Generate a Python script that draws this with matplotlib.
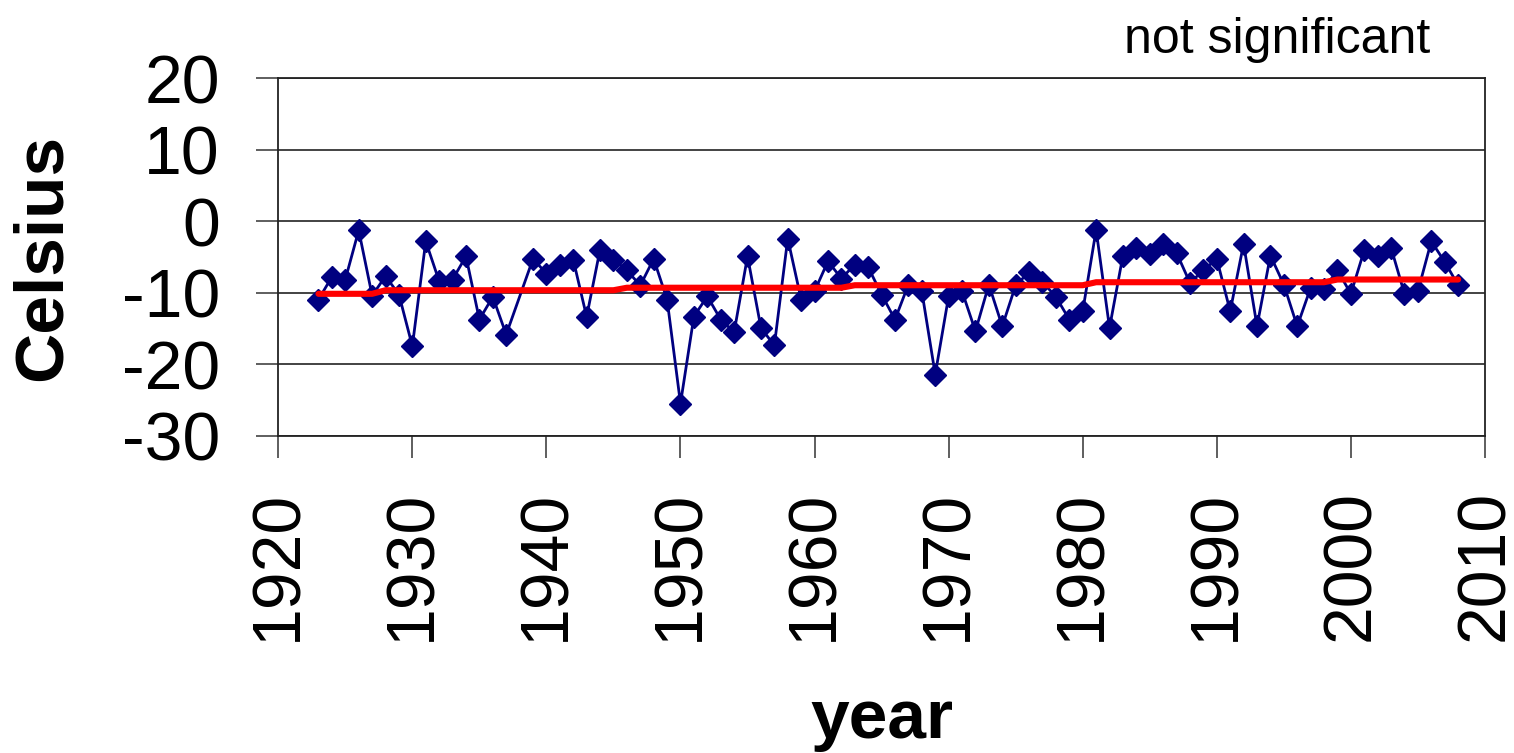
import matplotlib
matplotlib.use("Agg")
import matplotlib.pyplot as plt
import numpy as np

plt.rcParams['font.family'] = ['Liberation Sans', 'DejaVu Sans']
plt.rcParams['axes.unicode_minus'] = False

years = [1923, 1924, 1925, 1926, 1927, 1928, 1929, 1930, 1931, 1932, 1933, 1934,
         1935, 1936, 1937, 1939, 1940, 1941, 1942, 1943, 1944, 1945, 1946, 1947,
         1948, 1949, 1950, 1951, 1952, 1953, 1954, 1955, 1956, 1957, 1958, 1959,
         1960, 1961, 1962, 1963, 1964, 1965, 1966, 1967, 1968, 1969, 1970, 1971,
         1972, 1973, 1974, 1975, 1976, 1977, 1978, 1979, 1980, 1981, 1982, 1983,
         1984, 1985, 1986, 1987, 1988, 1989, 1990, 1991, 1992, 1993, 1994, 1995,
         1996, 1997, 1998, 1999, 2000, 2001, 2002, 2003, 2004, 2005, 2006, 2007,
         2008]

celsius = [-10.95, -7.78, -8.15, -1.26, -10.39, -7.69, -10.25, -17.48, -2.80, -8.39,
           -8.15, -4.90, -13.75, -10.57, -15.85, -5.26, -7.31, -6.06, -5.36, -13.37,
           -3.96, -5.36, -6.85, -8.99, -5.26, -10.95, -25.50, -13.33, -10.49, -13.75,
           -15.52, -4.90, -14.91, -17.38, -2.42, -10.95, -9.79, -5.59, -8.01, -6.06,
           -6.43, -10.25, -13.75, -8.85, -9.79, -21.44, -10.49, -9.79, -15.38, -8.85,
           -14.69, -8.95, -7.13, -8.48, -10.57, -13.75, -12.59, -1.20, -14.91, -4.80,
           -3.72, -4.52, -3.16, -4.42, -8.62, -6.85, -5.26, -12.59, -3.16, -14.69,
           -4.80, -8.85, -14.69, -9.31, -9.45, -6.85, -10.15, -4.06, -4.90, -3.72,
           -10.15, -9.79, -2.80, -5.68, -8.95]

trend = [-10.15, -10.15, -10.15, -10.15, -10.15,            # 1923-1927
         -9.65, -9.65, -9.65, -9.65, -9.65, -9.65, -9.65,    # 1928-1934
         -9.65, -9.65, -9.65, -9.65, -9.65, -9.65, -9.65,    # 1935-1942
         -9.65, -9.65, -9.65,                                # 1943-1945
         -9.30, -9.30, -9.30, -9.30, -9.30, -9.30, -9.30,    # 1946-1952
         -9.30, -9.30, -9.30, -9.30, -9.30, -9.30, -9.30,    # 1953-1959
         -9.30, -9.30, -9.30,                                # 1960-1962
         -8.95, -8.95, -8.95, -8.95, -8.95, -8.95, -8.95,    # 1963-1969
         -8.95, -8.95, -8.95, -8.95, -8.95, -8.95, -8.95,    # 1970-1976
         -8.95, -8.95, -8.95, -8.95,                         # 1977-1980
         -8.53, -8.53, -8.53, -8.53, -8.53, -8.53, -8.53,    # 1981-1987
         -8.53, -8.53, -8.53, -8.53, -8.53, -8.53, -8.53,    # 1988-1994
         -8.53, -8.53, -8.53, -8.53,                         # 1995-1998
         -8.15, -8.15, -8.15, -8.15, -8.15, -8.15, -8.15,    # 1999-2005
         -8.15, -8.15, -8.15]                                # 2006-2008

x_ticks = [1920, 1930, 1940, 1950, 1960, 1970, 1980, 1990, 2000, 2010]
y_ticks = [-30, -20, -10, 0, 10, 20]

fig = plt.figure(figsize=(15.14, 7.53), dpi=100)
ax = fig.add_axes([0.1838, 0.4214, 0.7970, 0.4746])

ax.plot(years, celsius, color='#000080', lw=2, marker='D', ms=11.5,
        mfc='#000080', mec='#000080', mew=1, zorder=3)
ax.plot(years, trend, color='#FF0000', lw=4.4, solid_capstyle='round', zorder=4)

ax.set_xlim(1920, 2010)
ax.set_ylim(-30, 20)
ax.set_xticks(x_ticks)
ax.set_yticks(y_ticks)
ax.set_xticklabels([str(t) for t in x_ticks], rotation=90)
ax.tick_params(axis='both', which='major', labelsize=49, length=16, width=1.1,
               color='#333333', direction='out')
ax.tick_params(axis='y', pad=26)
ax.tick_params(axis='x', pad=23)

ax.yaxis.grid(True, color='#222222', lw=1.2)
ax.set_axisbelow(True)
for s in ax.spines.values():
    s.set_color('#222222')
    s.set_linewidth(1.3)

ax.set_ylabel('Celsius', fontsize=50, fontweight='bold')
ax.yaxis.set_label_coords(-0.195, 0.5)
ax.yaxis.label.set_va('center')

ax.set_xlabel('year', fontsize=50, fontweight='bold')
ax.xaxis.set_label_coords(0.5, -0.846)
ax.xaxis.label.set_va('baseline')

fig.text(0.9445, 0.929, 'not significant', fontsize=36, ha='right', va='baseline')

fig.savefig('out.png', dpi=100)
